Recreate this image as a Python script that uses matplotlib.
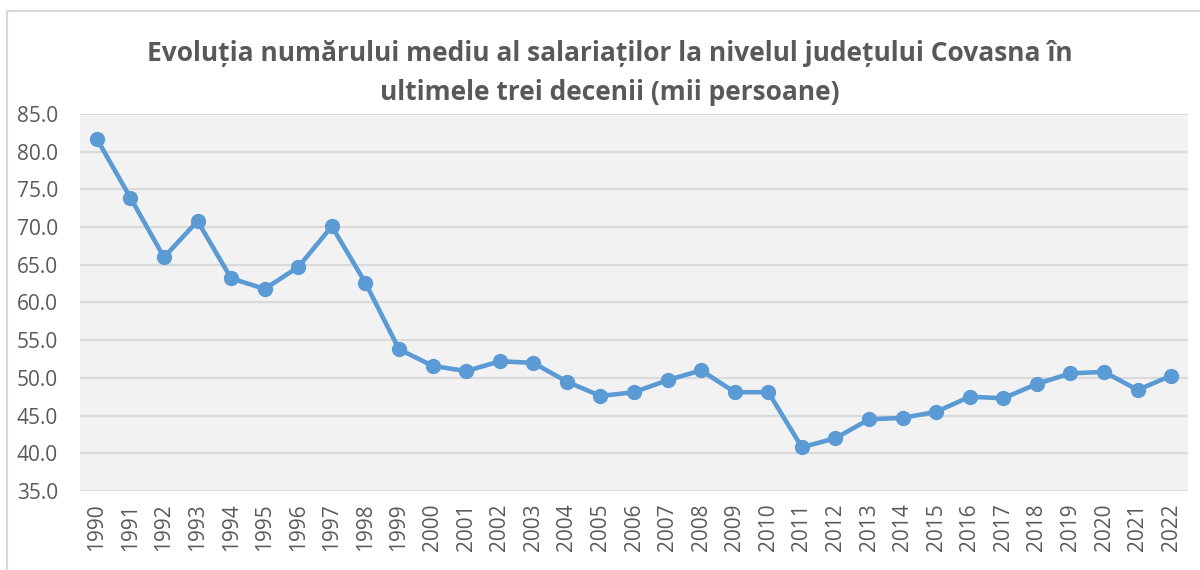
import matplotlib.pyplot as plt
import matplotlib.patches as mpatches

# data
years = [str(y) for y in range(1990, 2023)]
salariati = [81.7, 73.9, 66.0, 70.8, 63.2, 61.8, 64.7, 70.1, 62.6, 53.8,
             51.6, 50.9, 52.2, 52.0, 49.5, 47.6, 48.1, 49.7, 51.0, 48.1,
             48.1, 40.8, 42.0, 44.5, 44.7, 45.5, 47.5, 47.3, 49.2, 50.6,
             50.8, 48.4, 50.3]
y_ticks = [35.0, 40.0, 45.0, 50.0, 55.0, 60.0, 65.0, 70.0, 75.0, 80.0, 85.0]

title = ("Evoluția numărului mediu al salariaților la nivelul județului Covasna în\n"
         "ultimele trei decenii (mii persoane)")

plt.rcParams['font.family'] = ['Open Sans', 'DejaVu Sans']
text_color = '#595959'

fig = plt.figure(figsize=(12, 5.7), dpi=100)
ax = fig.add_axes([0.0667, 0.1386, 0.9233, 0.6614])

# thin outer border like the spreadsheet chart frame
fig.patches.append(mpatches.Rectangle((0.006, -0.05), 1.1, 1.03, transform=fig.transFigure,
                                      fill=False, edgecolor='#D9D9D9', linewidth=1.5))

ax.set_facecolor('#F2F2F2')
x = range(len(years))
ax.plot(x, salariati, color='#5B9BD5', linewidth=3.3, marker='o', markersize=10,
        zorder=3, solid_capstyle='round')

ax.set_xlim(-0.5, len(years) - 0.5)
ax.set_ylim(35, 85)
ax.set_yticks(y_ticks)
ax.set_yticklabels([f"{v:.1f}" for v in y_ticks])
ax.set_xticks(list(x))
ax.set_xticklabels(years, rotation=90)
ax.grid(axis='y', color='#D9D9D9', linewidth=1.5)
ax.set_axisbelow(True)
ax.tick_params(axis='both', length=0, colors=text_color, labelsize=15)
ax.tick_params(axis='y', pad=16)
ax.tick_params(axis='x', pad=9)
for s in ax.spines.values():
    s.set_visible(False)

fig.text(0.508, 0.93, title, ha='center', va='top', fontsize=19, fontweight='bold',
         color=text_color, linespacing=1.6)

fig.savefig('out.png', dpi=100)
